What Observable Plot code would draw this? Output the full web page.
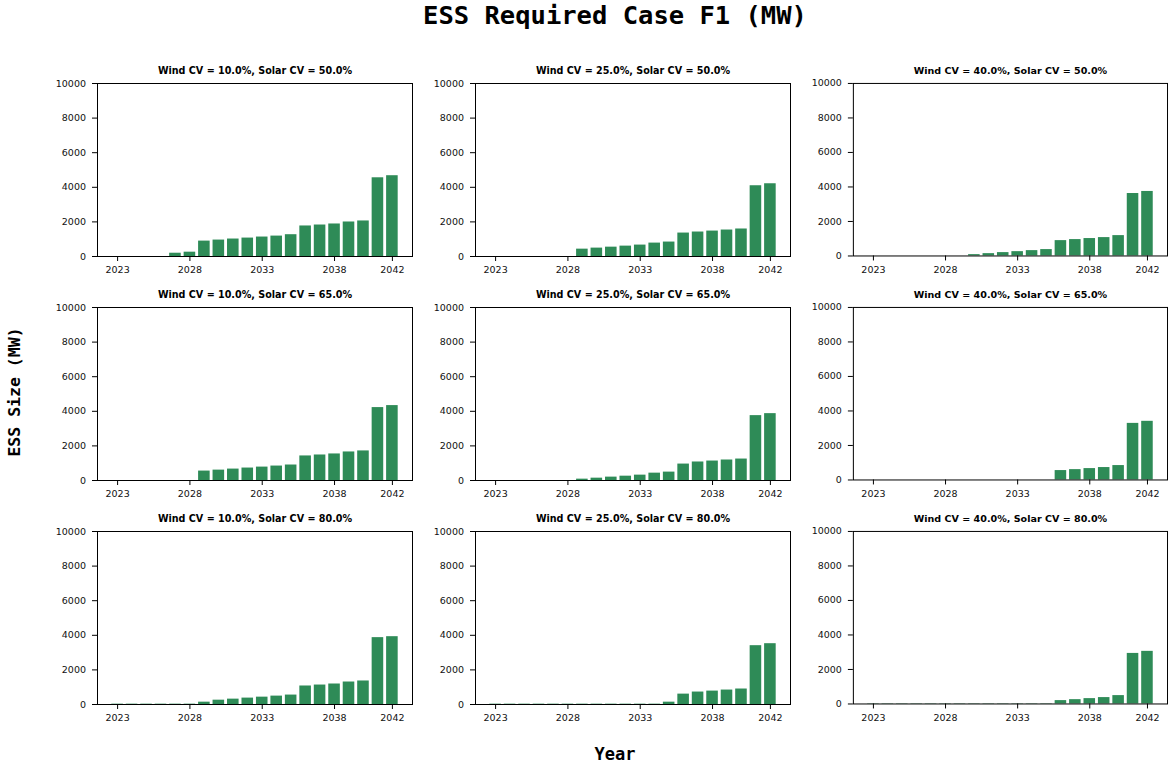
<!DOCTYPE html>
<html>
<head>
<meta charset="utf-8">
<script src="https://cdn.jsdelivr.net/npm/d3@7"></script>
<script src="https://cdn.jsdelivr.net/npm/@observablehq/plot@0.6"></script>
<style>
  html, body { margin: 0; padding: 0; background: #fff; }
  #root { position: relative; width: 1172px; height: 767px; background: #fff; overflow: hidden; }
  .lbl { position: absolute; font-family: "DejaVu Sans Mono", monospace; font-weight: bold; color: #000; white-space: nowrap; }
  .panel { position: absolute; }
</style>
</head>
<body>
<div id="root"></div>
<script>
// ---- data ----
const years = [2023,2024,2025,2026,2027,2028,2029,2030,2031,2032,2033,2034,2035,2036,2037,2038,2039,2040,2041,2042];
const xTickYears = [2023, 2028, 2033, 2038, 2042];
const yTicks = [0, 2000, 4000, 6000, 8000, 10000];
const windCVs = ["10.0%", "25.0%", "40.0%"];
const solarCVs = ["50.0%", "65.0%", "80.0%"];

const w10_s50 = [0,0,0,0,190,250,890,950,1010,1065,1125,1180,1260,1765,1820,1880,1995,2055,4550,4670];
const w25_s50 = [0,0,0,0,0,0,425,485,540,600,660,775,835,1355,1415,1470,1530,1590,4090,4205];
const w40_s50 = [0,0,0,0,0,0,0,78,135,195,250,310,370,890,950,1010,1065,1180,3620,3740];
const w10_s65 = [0,0,0,0,0,0,545,600,660,720,775,835,895,1420,1475,1535,1650,1710,4215,4330];
const w25_s65 = [0,0,0,0,0,0,78,135,195,250,310,425,485,950,1070,1125,1185,1240,3750,3865];
const w40_s65 = [0,0,0,0,0,0,0,0,0,0,0,0,0,545,600,660,720,835,3280,3400];
const w10_s80 = [20,20,20,20,20,20,135,250,310,370,425,485,545,1070,1125,1185,1300,1360,3865,3920];
const w25_s80 = [20,20,20,20,20,20,20,20,20,20,20,20,135,600,720,775,835,895,3400,3515];
const w40_s80 = [20,20,20,20,20,20,20,20,20,20,20,20,20,195,250,310,370,485,2930,3050];

const seriesGrid = [
  [w10_s50, w25_s50, w40_s50],
  [w10_s65, w25_s65, w40_s65],
  [w10_s80, w25_s80, w40_s80]
];

const mainTitle = "ESS Required Case F1 (MW)";
const yLabel = "ESS Size (MW)";
const xLabel = "Year";
const barColor = "#2e8b57";

// ---- layout ----
const root = document.getElementById("root");
const colLeft = [97, 475, 853];   // frame left edges
const rowTop = [83, 307, 531];    // frame top edges
const frameW = 315, frameH = 173;
const mL = 50, mR = 5, mT = 22, mB = 24;

function addLabel(text, css) {
  const d = document.createElement("div");
  d.className = "lbl";
  d.textContent = text;
  Object.assign(d.style, css);
  root.appendChild(d);
  return d;
}

addLabel(mainTitle, {left: "0px", width: "1230px", textAlign: "center", top: "0px", fontSize: "25.5px", lineHeight: "30px"});
addLabel(xLabel, {left: "0px", width: "1230px", textAlign: "center", top: "744px", fontSize: "17px", lineHeight: "20px"});
addLabel(yLabel, {left: "15px", top: "392px", fontSize: "16.5px", lineHeight: "20px", transform: "translate(-50%, -50%) rotate(-90deg)"});

for (let r = 0; r < 3; r++) {
  for (let c = 0; c < 3; c++) {
    const vals = seriesGrid[r][c];
    const data = years.map((y, i) => ({year: y, value: vals[i]}));
    const title = `Wind CV = ${windCVs[c]}, Solar CV = ${solarCVs[r]}`;
    const chart = Plot.plot({
      width: mL + frameW + mR,
      height: mT + frameH + mB,
      marginLeft: mL, marginRight: mR, marginTop: mT, marginBottom: mB,
      style: {fontFamily: "DejaVu Sans, sans-serif", fontSize: "9.5px", color: "#111", background: "transparent", overflow: "visible"},
      x: {type: "band", domain: years, paddingInner: 0.2, paddingOuter: 0.99, round: false},
      y: {domain: [0, 10000]},
      marks: [
        Plot.barY(data, {x: "year", y: "value", fill: barColor}),
        Plot.frame({stroke: "#000", strokeWidth: 1}),
        Plot.axisX(xTickYears, {tickSize: 5, tickPadding: 5, tickFormat: d => String(d), label: null, stroke: "#000"}),
        Plot.axisY(yTicks, {tickSize: 5, tickPadding: 6.5, tickFormat: d => String(d), label: null, stroke: "#000"}),
        Plot.text([title], {frameAnchor: "top", lineAnchor: "middle", dy: -13, fontWeight: "bold", fontSize: 9.6, fill: "#000"})
      ]
    });
    const wrap = document.createElement("div");
    wrap.className = "panel";
    wrap.style.left = (colLeft[c] - mL) + "px";
    wrap.style.top = (rowTop[r] - mT) + "px";
    wrap.appendChild(chart);
    root.appendChild(wrap);
  }
}
</script>
</body>
</html>
